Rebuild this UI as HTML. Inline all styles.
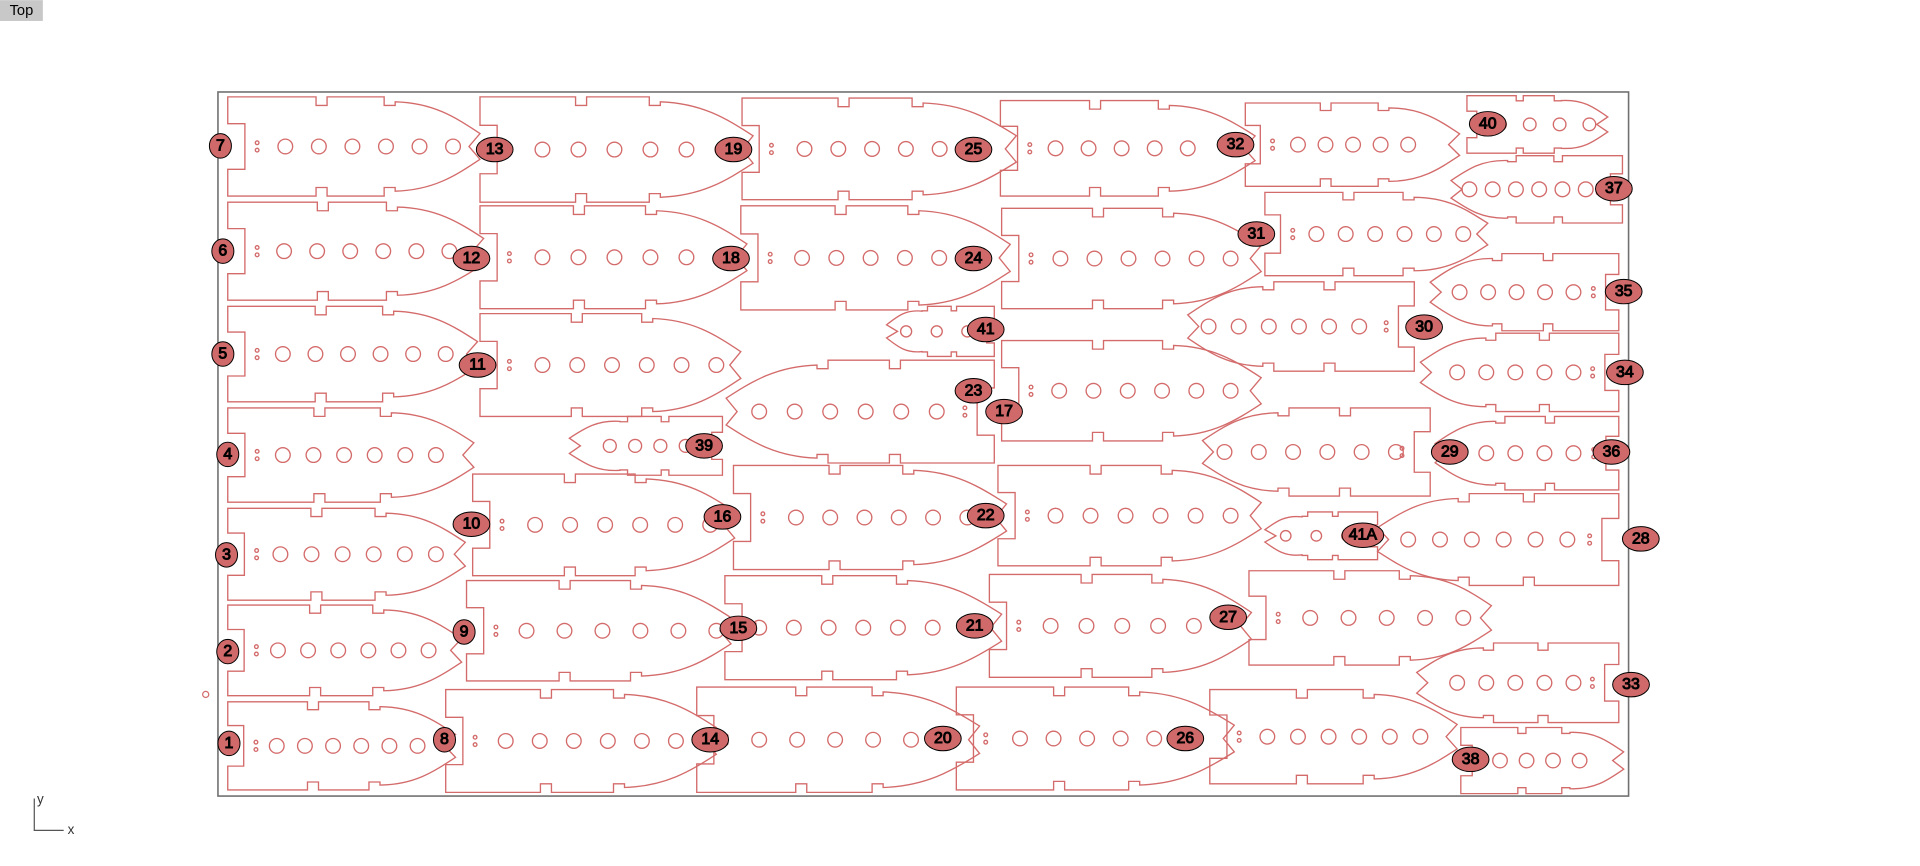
<!DOCTYPE html>
<html><head><meta charset="utf-8"><style>
html,body{margin:0;padding:0;background:#fff;width:1920px;height:866px;overflow:hidden}
svg{display:block}
.lb text{font-family:"Liberation Sans",sans-serif;font-size:13px;fill:#000;text-anchor:middle;dominant-baseline:central}
</style></head><body>
<svg id="s" width="1920" height="866" viewBox="0 0 1568 707" xmlns="http://www.w3.org/2000/svg">
<rect x="0" y="0" width="35" height="17" fill="#c8c8c8"/>
<text x="17.5" y="9" font-family="Liberation Sans,sans-serif" font-size="12" text-anchor="middle" dominant-baseline="central" fill="#000">Top</text>
<rect x="178" y="75" width="1152" height="575" fill="none" stroke="#707070" stroke-width="1.3"/>
<path d="M28 652 V678 H52" fill="none" stroke="#555" stroke-width="1"/>
<text x="33" y="656" font-family="Liberation Sans,sans-serif" font-size="11" text-anchor="middle" fill="#333">y</text>
<text x="58" y="681" font-family="Liberation Sans,sans-serif" font-size="11" text-anchor="middle" fill="#333">x</text>
<circle cx="168" cy="567" r="2.5" fill="none" stroke="#d46b6b"/>
<g id="pieces" fill="none" stroke="#d46b6b" stroke-width="1.1"></g>
<g class="lb" id="labels" fill="#d06a6a" stroke="#000" stroke-width="0.8">
<ellipse cx="180" cy="119" rx="9" ry="10"/><text x="180" y="119">7</text>
<ellipse cx="404" cy="122" rx="15" ry="10"/><text x="404" y="122">13</text>
<ellipse cx="599" cy="122" rx="15" ry="10"/><text x="599" y="122">19</text>
<ellipse cx="795" cy="122" rx="15" ry="10"/><text x="795" y="122">25</text>
<ellipse cx="1009" cy="118" rx="15" ry="10"/><text x="1009" y="118">32</text>
<ellipse cx="1215" cy="101" rx="15" ry="10"/><text x="1215" y="101">40</text>
<ellipse cx="1318" cy="154" rx="15" ry="10"/><text x="1318" y="154">37</text>
<ellipse cx="182" cy="205" rx="9" ry="10"/><text x="182" y="205">6</text>
<ellipse cx="385" cy="211" rx="15" ry="10"/><text x="385" y="211">12</text>
<ellipse cx="597" cy="211" rx="15" ry="10"/><text x="597" y="211">18</text>
<ellipse cx="795" cy="211" rx="15" ry="10"/><text x="795" y="211">24</text>
<ellipse cx="1026" cy="191" rx="15" ry="10"/><text x="1026" y="191">31</text>
<ellipse cx="805" cy="269" rx="15" ry="10"/><text x="805" y="269">41</text>
<ellipse cx="1163" cy="267" rx="15" ry="10"/><text x="1163" y="267">30</text>
<ellipse cx="1326" cy="238" rx="15" ry="10"/><text x="1326" y="238">35</text>
<ellipse cx="1327" cy="304" rx="15" ry="10"/><text x="1327" y="304">34</text>
<ellipse cx="182" cy="289" rx="9" ry="10"/><text x="182" y="289">5</text>
<ellipse cx="390" cy="298" rx="15" ry="10"/><text x="390" y="298">11</text>
<ellipse cx="795" cy="319" rx="15" ry="10"/><text x="795" y="319">23</text>
<ellipse cx="820" cy="336" rx="15" ry="10"/><text x="820" y="336">17</text>
<ellipse cx="186" cy="371" rx="9" ry="10"/><text x="186" y="371">4</text>
<ellipse cx="575" cy="364" rx="15" ry="10"/><text x="575" y="364">39</text>
<ellipse cx="1184" cy="369" rx="15" ry="10"/><text x="1184" y="369">29</text>
<ellipse cx="1316" cy="369" rx="15" ry="10"/><text x="1316" y="369">36</text>
<ellipse cx="185" cy="453" rx="9" ry="10"/><text x="185" y="453">3</text>
<ellipse cx="385" cy="428" rx="15" ry="10"/><text x="385" y="428">10</text>
<ellipse cx="590" cy="422" rx="15" ry="10"/><text x="590" y="422">16</text>
<ellipse cx="805" cy="421" rx="15" ry="10"/><text x="805" y="421">22</text>
<ellipse cx="1113" cy="437" rx="17" ry="10"/><text x="1113" y="437">41A</text>
<ellipse cx="1340" cy="440" rx="15" ry="10"/><text x="1340" y="440">28</text>
<ellipse cx="186" cy="532" rx="9" ry="10"/><text x="186" y="532">2</text>
<ellipse cx="379" cy="516" rx="9" ry="10"/><text x="379" y="516">9</text>
<ellipse cx="603" cy="513" rx="15" ry="10"/><text x="603" y="513">15</text>
<ellipse cx="796" cy="511" rx="15" ry="10"/><text x="796" y="511">21</text>
<ellipse cx="1003" cy="504" rx="15" ry="10"/><text x="1003" y="504">27</text>
<ellipse cx="1332" cy="559" rx="15" ry="10"/><text x="1332" y="559">33</text>
<ellipse cx="187" cy="607" rx="9" ry="10"/><text x="187" y="607">1</text>
<ellipse cx="363" cy="604" rx="9" ry="10"/><text x="363" y="604">8</text>
<ellipse cx="580" cy="604" rx="15" ry="10"/><text x="580" y="604">14</text>
<ellipse cx="770" cy="603" rx="15" ry="10"/><text x="770" y="603">20</text>
<ellipse cx="968" cy="603" rx="15" ry="10"/><text x="968" y="603">26</text>
<ellipse cx="1201" cy="620" rx="15" ry="10"/><text x="1201" y="620">38</text>
</g>
</svg>
<script>
var P=[
[186,392,79,160,1,233,370,6],[186,395,165,245,1,232,367,6],[186,390,250,328,1,231,364,6],
[186,387,333,410,1,231,356,6],[186,380,415,490,1,229,356,6],[186,377,494,568,1,227,350,6],
[186,372,573,645,1,226,341,6],
[392,615,79,165,1,443,590,6],[392,610,168,252,1,443,590,6],[392,605,256,340,1,443,585,6],
[386,600,387,470,1,437,580,6],[381,597,474,556,1,430,585,6],[364,585,563,647,1,413,552,6],
[465,590,340,388,-1,498,560,4],
[606,830,80,163,1,657,795,6],[605,825,168,253,1,655,795,6],[593,812,294,378,-1,620,765,6],
[599,822,380,465,1,650,790,6],[592,818,470,555,1,620,790,7],[569,800,561,647,1,620,775,6],
[724,812,250,291,-1,740,790,3],
[817,1025,82,160,1,862,970,5],[818,1030,170,252,1,866,1005,6],[818,1030,278,360,1,865,1005,6],
[815,1030,380,462,1,862,1005,6],[808,1022,469,553,1,858,975,5],[781,1008,561,645,1,833,970,6],
[1017,1192,84,152,1,1060,1150,5],[1033,1215,157,225,1,1075,1195,6],[970,1155,230,303,-1,987,1110,6],
[982,1168,333,405,-1,1000,1140,6],[1020,1218,466,543,1,1070,1195,5],[988,1190,563,640,1,1035,1160,6],
[1033,1125,418,457,-1,1050,1100,3],
[1198,1313,78,125,1,1225,1298,4],[1185,1325,127,182,-1,1200,1295,6],[1168,1322,207,270,-1,1192,1285,5],
[1160,1322,272,336,-1,1190,1285,5],[1172,1322,340,400,-1,1190,1285,5],[1125,1322,403,478,-1,1150,1280,6],
[1157,1322,525,590,-1,1190,1285,5],[1193,1326,594,648,1,1225,1290,4]
];
var g=document.getElementById('pieces'),h='';
P.forEach(function(p){
 var x0=p[0],x1=p[1],y0=p[2],y1=p[3],d=p[4],L=x1-x0,H=y1-y0;
 var a=Math.min(14,L*0.07),s1=0.35*L,s2=0.62*L,w=Math.min(9,L*0.05),dp=Math.min(7,H*0.09);
 var e=s2+w;
 var pts='M0,0 H'+s1+' V'+dp+' H'+(s1+w)+' V0 H'+s2+' V'+dp+' H'+e+' V4'+
 ' C'+(e+0.15*L)+','+(0.06*H)+' '+(0.9*L)+','+(0.2*H)+' '+L+','+(0.37*H)+' L'+(L-9)+','+(0.5*H)+' L'+L+','+(0.63*H)+
 ' C'+(0.9*L)+','+(0.8*H)+' '+(e+0.15*L)+','+(0.94*H)+' '+e+','+(H-4)+' V'+(H-dp)+' H'+s2+' V'+H+' H'+(s1+w)+' V'+(H-dp)+' H'+s1+' V'+H+
 ' H0 V'+(0.73*H)+' H'+a+' V'+(0.27*H)+' H0 Z';
 var tr=d>0?'translate('+x0+','+y0+')':'translate('+x1+','+y0+') scale(-1,1)';
 h+='<path transform="'+tr+'" d="'+pts+'"/>';
 var cy=(y0+y1)/2,n=p[7],r=Math.min(6,H*0.11);
 for(var i=0;i<n;i++){var cx=p[5]+(p[6]-p[5])*i/(n-1);h+='<circle cx="'+cx.toFixed(1)+'" cy="'+cy+'" r="'+r+'"/>';}
 var mx=d>0?x0+a+10:x1-a-10;
 h+='<circle cx="'+mx+'" cy="'+(cy-3)+'" r="1.5"/><circle cx="'+mx+'" cy="'+(cy+3)+'" r="1.5"/>';
});
g.innerHTML=h;
</script>
</body></html>
